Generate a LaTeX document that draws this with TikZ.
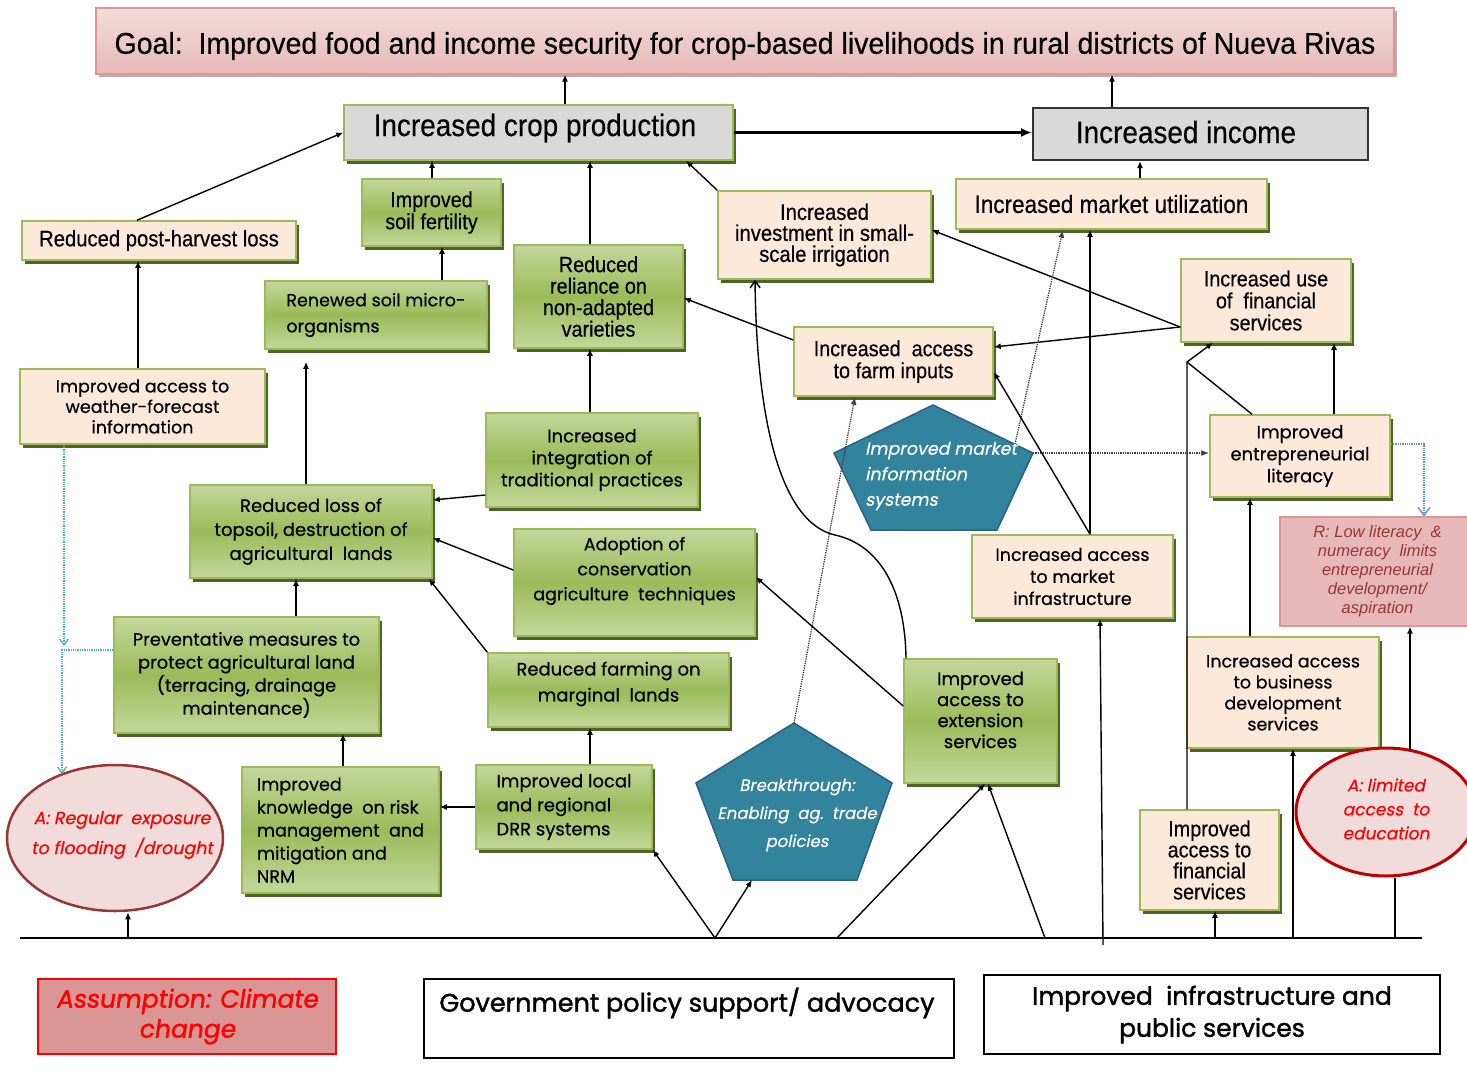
\documentclass[tikz,border=0pt]{standalone}
\usepackage{fontspec}
\setmainfont{Liberation Sans}
\newfontfamily\nar[FakeStretch=0.9,FakeBold=0.4]{Liberation Sans}
\newfontfamily\narg[FakeStretch=0.95,FakeBold=0.4]{Liberation Sans}
\newfontfamily\cg[FakeBold=0.5]{Poppins}
\newfontfamily\cgi[FakeSlant=0.2,FakeBold=0.4]{Poppins}
\newfontfamily\cgb[FakeBold=1.5]{Poppins}
\newfontfamily\cgbi[FakeBold=1.5,FakeSlant=0.15]{Poppins}
\usetikzlibrary{arrows.meta,shadows,calc,shapes.geometric}
\newcommand\fsz[2]{\fontsize{#1}{#2}\selectfont}
\definecolor{peachc}{HTML}{FDE9D9}
\definecolor{gbord}{HTML}{9BBB59}
\definecolor{gtop}{HTML}{C4D79B}
\definecolor{gmid}{HTML}{9BBB59}
\definecolor{shad}{HTML}{4F6228}
\definecolor{tealc}{HTML}{31849B}
\definecolor{tealb}{HTML}{2C5F8A}
\definecolor{pinkl}{HTML}{F2DCDB}
\definecolor{pinkm}{HTML}{E6B9B8}
\definecolor{pinkd}{HTML}{D99694}
\definecolor{dred}{HTML}{953735}
\definecolor{redc}{HTML}{FF0000}
\definecolor{rede}{HTML}{C00000}
\definecolor{grayc}{HTML}{D9D9D9}
\definecolor{lblue}{HTML}{4BACC6}
\definecolor{mblue}{HTML}{558ED5}
\tikzset{
  base/.style={rectangle, draw=gbord, line width=1.5pt, align=center, inner sep=2pt,
    drop shadow={shadow xshift=3pt, shadow yshift=-4pt, fill=shad, opacity=1}},
  peach/.style={base, fill=peachc},
  gbox/.style={base, top color=gtop, bottom color=gtop, middle color=gmid},
  graybox/.style={base, fill=grayc},
  incbox/.style={rectangle, draw=black!80, line width=2pt, fill=grayc, align=center},
  goalbox/.style={rectangle, draw=pinkd, line width=1.2pt, top color=pinkl, bottom color=pinkm, align=center,
    drop shadow={shadow xshift=3pt, shadow yshift=-3pt, fill=black!30, opacity=1}},
  rbx/.style={rectangle, draw=pinkd, line width=1.2pt, fill=pinkm, align=center, text=dred},
  assbox/.style={rectangle, draw=redc, line width=1.5pt, fill=pinkd, align=center, text=redc},
  plainbox/.style={rectangle, draw=black, line width=1.5pt, fill=white, align=center},
  floodell/.style={ellipse, draw=dred, line width=2.5pt, fill=pinkl, inner sep=0pt},
  eduell/.style={ellipse, draw=rede, line width=3pt, fill=pinkl, inner sep=0pt},
  penta/.style={draw=tealb, line width=1.5pt, fill=tealc},
  ptext/.style={text=white, align=center, inner sep=0pt},
  arr/.style={-{Latex[length=7pt,width=6pt]}, line width=1.4pt},
  ln/.style={line width=1.4pt},
  dotk/.style={densely dotted, line width=1.3pt, black!75},
  dotb/.style={densely dotted, line width=1.3pt, lblue},
  txt/.style={align=center, inner sep=0pt},
}
\begin{document}
\begin{tikzpicture}[x=1pt,y=-1pt]
\useasboundingbox (0,0) rectangle (1467,1074);
\fill[white] (0,0) rectangle (1467,1074);

% ---------- nodes ----------
\node[goalbox, minimum width=1298pt, minimum height=66pt] (goal) at (745,41) {};
\node[txt, font=\narg\fsz{30}{32}] (goalt) at (745,46)
  {Goal:\ \ Improved food and income security for crop-based livelihoods in rural districts of Nueva Rivas};
\node[graybox, minimum width=389pt, minimum height=55pt] (crop) at (538.5,132.5) {};
\node[txt, font=\nar\fsz{31}{34}] (cropt) at (535,128) {Increased crop production};
\node[incbox, minimum width=335pt, minimum height=52pt] (income) at (1200.5,134) {};
\node[txt, font=\nar\fsz{31}{34}] (incomet) at (1186,132) {Increased income};
\node[peach, minimum width=311pt, minimum height=50pt, font=\nar\fsz{25}{26}] (mkt) at (1111.5,204) {Increased market utilization};
\node[peach, minimum width=213pt, minimum height=88pt, font=\nar\fsz{22.5}{21}] (irrig) at (824.5,235) {Increased\\investment in small-\\scale irrigation};
\node[peach, minimum width=274pt, minimum height=39pt, font=\nar\fsz{22.5}{22}] (postharv) at (159,240.5) {Reduced post-harvest loss};
\node[gbox, minimum width=139pt, minimum height=67pt, font=\nar\fsz{22}{22}] (soilfert) at (431.5,212.5) {Improved\\soil fertility};
\node[gbox, minimum width=222pt, minimum height=68pt, font=\cg\fsz{17.5}{26}, align=left] (renew) at (376,315) {Renewed soil micro-\\organisms};
\node[gbox, minimum width=169pt, minimum height=103pt, font=\nar\fsz{22}{21.5}] (reliance) at (598.5,296.5) {Reduced\\reliance on\\non-adapted\\varieties};
\node[peach, minimum width=170pt, minimum height=83pt, font=\nar\fsz{22}{22}] (finuse) at (1266,300.5) {Increased use\\of\ \ financial\\services};
\node[peach, minimum width=199pt, minimum height=69pt, font=\nar\fsz{22}{22}] (farmin) at (893.5,361.5) {Increased\ \ access\\to farm inputs};
\node[peach, minimum width=245pt, minimum height=75pt, font=\cg\fsz{17.5}{20.5}] (weather) at (142.5,406.5) {Improved access to\\weather-forecast\\information};
\node[peach, minimum width=180pt, minimum height=82pt, font=\cg\fsz{18}{22}] (entre) at (1300,456) {Improved\\entrepreneurial\\literacy};
\node[gbox, minimum width=212pt, minimum height=94pt, font=\cg\fsz{18}{22}] (integ) at (592,460) {Increased\\integration of\\traditional practices};
\node[gbox, minimum width=242pt, minimum height=93pt, font=\cg\fsz{18}{24}] (topsoil) at (311,531.5) {Reduced loss of\\topsoil, destruction of\\agricultural\ \ lands};
\node[gbox, minimum width=241pt, minimum height=107pt] (adopt) at (634.5,582.5) {};
\node[txt, font=\cg\fsz{17.5}{25}] (adoptt) at (634.5,571) {Adoption of\\conservation\\agriculture\ \ techniques};
\node[peach, minimum width=201pt, minimum height=83pt, font=\cg\fsz{17.5}{22}] (mktinfra) at (1072.5,576.5) {Increased access\\to market\\infrastructure};
\node[rbx, minimum width=195pt, minimum height=109pt, font=\itshape\fsz{16.5}{19}] (rbox) at (1377.5,571.5) {R: Low literacy\ \ \&\\numeracy\ \ limits\\entrepreneurial\\development/\\aspiration};
\node[gbox, minimum width=265pt, minimum height=116pt, font=\cg\fsz{17.8}{23}] (prevent) at (246.5,675) {Preventative measures to\\protect agricultural land\\(terracing, drainage\\maintenance)};
\node[gbox, minimum width=241pt, minimum height=74pt] (marginal) at (608.5,690) {};
\node[txt, font=\cg\fsz{18}{26}] (marginalt) at (608.5,684) {Reduced farming on\\marginal\ \ lands};
\node[gbox, minimum width=153pt, minimum height=124pt] (ext) at (980.5,721) {};
\node[txt, font=\cg\fsz{18}{21}] (extt) at (980.5,710) {Improved\\access to\\extension\\services};
\node[peach, minimum width=192pt, minimum height=111pt, font=\cg\fsz{17.5}{21}] (bds) at (1283,692.5) {Increased access\\to business\\development\\services};
\node[floodell, minimum width=216pt, minimum height=146pt] (flood) at (115,838) {};
\node[txt, text=redc, font=\cgi\fsz{17.5}{30}] (floodt) at (122,835) {A: Regular\ \ exposure\\to flooding\ \ /drought};
\node[gbox, minimum width=197pt, minimum height=126pt, font=\cg\fsz{17.6}{23}, align=left] (know) at (340.5,830) {Improved\\knowledge\ \ on risk\\management\ \ and\\mitigation and\\NRM};
\node[gbox, minimum width=176pt, minimum height=84pt, font=\cg\fsz{18}{24}, align=left] (drr) at (564,807) {Improved local\\and regional\\DRR systems};
\node[peach, minimum width=139pt, minimum height=100pt, font=\nar\fsz{22}{21}] (finacc) at (1209.5,860) {Improved\\access to\\financial\\services};
\node[eduell, minimum width=180pt, minimum height=128pt] (edu) at (1386,812) {};
\node[txt, text=redc, font=\cgi\fsz{17}{24}] (edut) at (1386,809) {A: limited\\access\ \ to\\education};
\node[assbox, minimum width=298pt, minimum height=75pt, font=\cgbi\fsz{25}{30}] (assump) at (187,1016.5) {Assumption: Climate\\change};
\node[plainbox, minimum width=530pt, minimum height=79pt] (gov) at (689,1018.5) {};
\node[txt, font=\cgb\fsz{25.5}{28}] (govt) at (687,1003) {Government policy support/ advocacy};
\node[plainbox, minimum width=456pt, minimum height=79pt, font=\cgb\fsz{25}{32}] (infra) at (1212,1014.5) {Improved\ \ infrastructure and\\public services};

% ---------- pentagons ----------
\coordinate (mi1) at (933,405);
\coordinate (mi2) at (1033,453);
\coordinate (mi3) at (997,530);
\coordinate (mi4) at (871,530);
\coordinate (mi5) at (834,453);
\draw[penta] (mi1) -- (mi2) -- (mi3) -- (mi4) -- (mi5) -- cycle;
\node[ptext, align=left, font=\cgi\fsz{17.5}{25.5}] (mitext) at (941,476) {Improved market\\information\\systems};
\coordinate (bk1) at (794,723);
\coordinate (bk2) at (892,783);
\coordinate (bk3) at (857,880);
\coordinate (bk4) at (733,880);
\coordinate (bk5) at (696,783);
\draw[penta] (bk1) -- (bk2) -- (bk3) -- (bk4) -- (bk5) -- cycle;
\node[ptext, font=\cgi\fsz{16.5}{28}] (bktext) at (797,815) {Breakthrough:\\Enabling\ \ ag.\ \ trade\\policies};

% ---------- baseline ----------
\coordinate (bl) at (20,938);
\coordinate (br) at (1422,938);
\draw[ln] (bl) -- (br);

% ---------- connectors ----------
\draw[arr] (crop.north -| 565,0) -- (goal.south -| 565,0);
\draw[arr] (income.north -| 1112,0) -- (goal.south -| 1112,0);
\draw[-{Latex[length=11pt,width=9pt]}, line width=3pt] (crop.east) -- (crop.east -| income.west);
\draw[arr] (mkt.north -| 1140,0) -- (income.south -| 1140,0);
\draw[arr] (postharv.north -| 137,0) -- (crop.west);
\draw[arr] (soilfert.north -| 432,0) -- (crop.south -| 432,0);
\draw[arr] (reliance.north -| 590,0) -- (crop.south -| 590,0);
\draw[arr] (irrig.north west) -- (crop.south -| 686,0);
\draw[arr] (renew.north -| 442,0) -- (soilfert.south -| 442,0);
\draw[arr] (weather.north -| 138,0) -- (postharv.south -| 138,0);
\draw[arr, shorten >=12pt] (topsoil.north -| 306,0) -- (renew.south -| 306,0);
\draw[arr] (integ.north -| 590,0) -- (reliance.south -| 590,0);
\draw[arr] (farmin.west |- 0,340) -- (reliance.east |- 0,298);
\draw[arr] (finuse.west |- 0,327) -- (farmin.east |- 0,347);
\draw[arr] (finuse.west |- 0,327) -- (irrig.east |- 0,230);
\coordinate (j1) at (1187,362);
\draw[arr] (finacc.north -| 1187,0) -- (j1) -- (finuse.south -| 1213,0);
\draw[ln] (entre.north -| 1252,0) -- (j1);
\draw[arr] (entre.north -| 1334,0) -- (finuse.south -| 1334,0);
\draw[arr] (bl -| 1215,0) -- (finacc.south -| 1215,0);
\draw[arr] (bl -| 1293,0) -- (bds.south -| 1293,0);
\draw[arr] (bds.north -| 1250,0) -- (entre.south -| 1250,0);
\draw[arr] (1410,750) -- (rbox.south -| 1410,0);
\draw[ln] (edu.south -| 1395,0) -- (bl -| 1395,0);
\draw[dotb, mblue, -{Straight Barb[length=8pt,width=12pt]}] (entre.east |- 0,444) -| (rbox.north -| 1424,0);
\draw[dotk, -{Latex[length=8pt,width=6pt]}] (mi2) -- (entre.west |- mi2);
\draw[dotk, -{Latex[length=8pt,width=6pt]}] (bk1) -- (farmin.south -| 855,0);
\coordinate (mi6) at (1015,444);
\draw[dotk, -{Latex[length=8pt,width=6pt]}] (mi6) -- (mkt.south -| 1063,0);
\draw[arr] (mktinfra.north -| 1090,0) -- (mkt.south -| 1090,0);
\draw[arr] (mktinfra.north -| 1090,0) -- (farmin.east |- 0,372);
\draw[arr] (1103,945) -- (mktinfra.south -| 1100,0);
\draw[ln, -{Straight Barb[length=7pt,width=10pt]}] (ext.north -| 906,0) .. controls (905,590) and (880,545) .. (835,535)
   .. controls (790,525) and (757,450) .. (irrig.south -| 755,0);
\draw[arr] (ext.west |- 0,706) -- (adopt.east |- 0,577);
\draw[arr] (adopt.west |- 0,570) -- (topsoil.east |- 0,538);
\draw[arr] (integ.west |- 0,495) -- (topsoil.east |- 0,500);
\draw[arr] (marginal.north west) -- ([xshift=-4pt]topsoil.south east);
\draw[arr] (prevent.north -| 296,0) -- (topsoil.south -| 296,0);
\draw[arr] (know.north -| 343,0) -- (prevent.south -| 343,0);
\draw[arr] (drr.west) -- (know.east |- drr.west);
\draw[arr] (drr.north -| 590,0) -- (marginal.south -| 590,0);
\coordinate (b1) at (715,938);
\draw[arr] (b1) -- (drr.south east);
\draw[arr] (b1) -- (bk4 -| 752,0);
\draw[arr] (bl -| 837,0) -- (ext.south -| 985,0);
\draw[arr] (bl -| 1045,0) -- (ext.south -| 988,0);
\draw[arr] (bl -| 128,0) -- (flood.south -| 128,0);
\draw[dotb, -{Straight Barb[length=6pt,width=9pt]}] (weather.south -| 64,0) -- (64,646);
\draw[dotb, -{Straight Barb[length=6pt,width=9pt]}] (prevent.west |- 0,650) -- (62,650) -- (62,774);
\end{tikzpicture}
\end{document}
